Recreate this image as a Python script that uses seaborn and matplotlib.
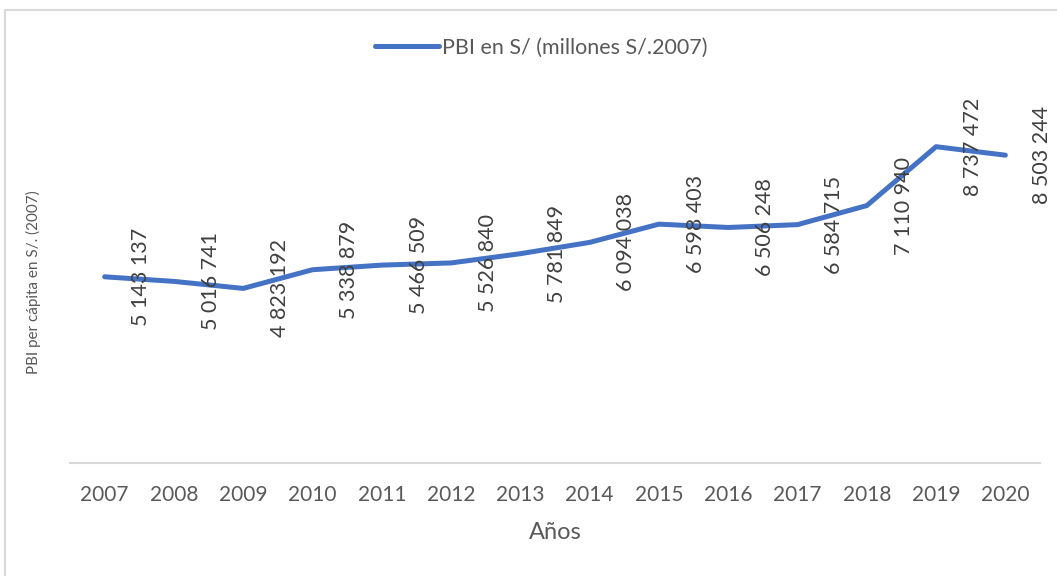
import numpy as np
import pandas as pd
import matplotlib
matplotlib.use('Agg')
import matplotlib.pyplot as plt
import seaborn as sns
from matplotlib.patches import Rectangle

# ── data ──
years = [2007, 2008, 2009, 2010, 2011, 2012, 2013,
         2014, 2015, 2016, 2017, 2018, 2019, 2020]
pbi = [5143137, 5016741, 4823192, 5338879, 5466509, 5526840, 5781849,
       6094038, 6598403, 6506248, 6584715, 7110940, 8737472, 8503244]
series_name = 'PBI en S/ (millones S/.2007)'

df = pd.DataFrame({'Año': years, 'PBI': pbi})

sns.set_theme(style='white')
plt.rcParams['font.family'] = ['Lato', 'DejaVu Sans']

blue = '#4472C4'
grey_txt = '#595959'

fig = plt.figure(figsize=(10.57, 5.76), dpi=100)
ax = fig.add_axes([70 / 1057, 113 / 576, 970 / 1057, 362 / 576])

sns.lineplot(data=df, x='Año', y='PBI', ax=ax, color=blue,
             linewidth=3.6, label=series_name, solid_capstyle='round')

# rotated data labels, right of each point
for x, v in zip(years, pbi):
    ax.annotate(f'{v:,}'.replace(',', ' '), (x, v), xytext=(26.5, 0),
                textcoords='offset points', rotation=90,
                ha='center', va='center', fontsize=15.5, color='#404040')

ax.set_xlim(years[0] - 0.5, years[-1] + 0.5)
ax.set_ylim(0, 10_000_000)
ax.set_xticks(years)
ax.set_xticklabels([str(y) for y in years], fontsize=15, color=grey_txt)
ax.set_yticks([])
ax.tick_params(axis='x', length=0, pad=16)

for side in ['top', 'right', 'left']:
    ax.spines[side].set_visible(False)
ax.spines['bottom'].set_color('#D9D9D9')
ax.spines['bottom'].set_linewidth(1.5)

ax.set_xlabel('Años', fontsize=17, color=grey_txt, labelpad=12)
ax.set_ylabel('PBI per cápita en S/. (2007)', fontsize=11, color=grey_txt)
ax.yaxis.set_label_coords(-0.03, 0.5)

leg = ax.legend(loc='center', bbox_to_anchor=(541 / 1057, 528 / 576),
                bbox_transform=fig.transFigure, frameon=False,
                fontsize=15.5, handlelength=3.0, handletextpad=0.1)
for t in leg.get_texts():
    t.set_color(grey_txt)

# chart border
fig.patches.append(Rectangle((5 / 1057, -0.05), 1.1, (566 / 576) + 0.05,
                             transform=fig.transFigure, fill=False,
                             edgecolor='#D9D9D9', linewidth=1.5))

fig.savefig('out.png', dpi=100)
